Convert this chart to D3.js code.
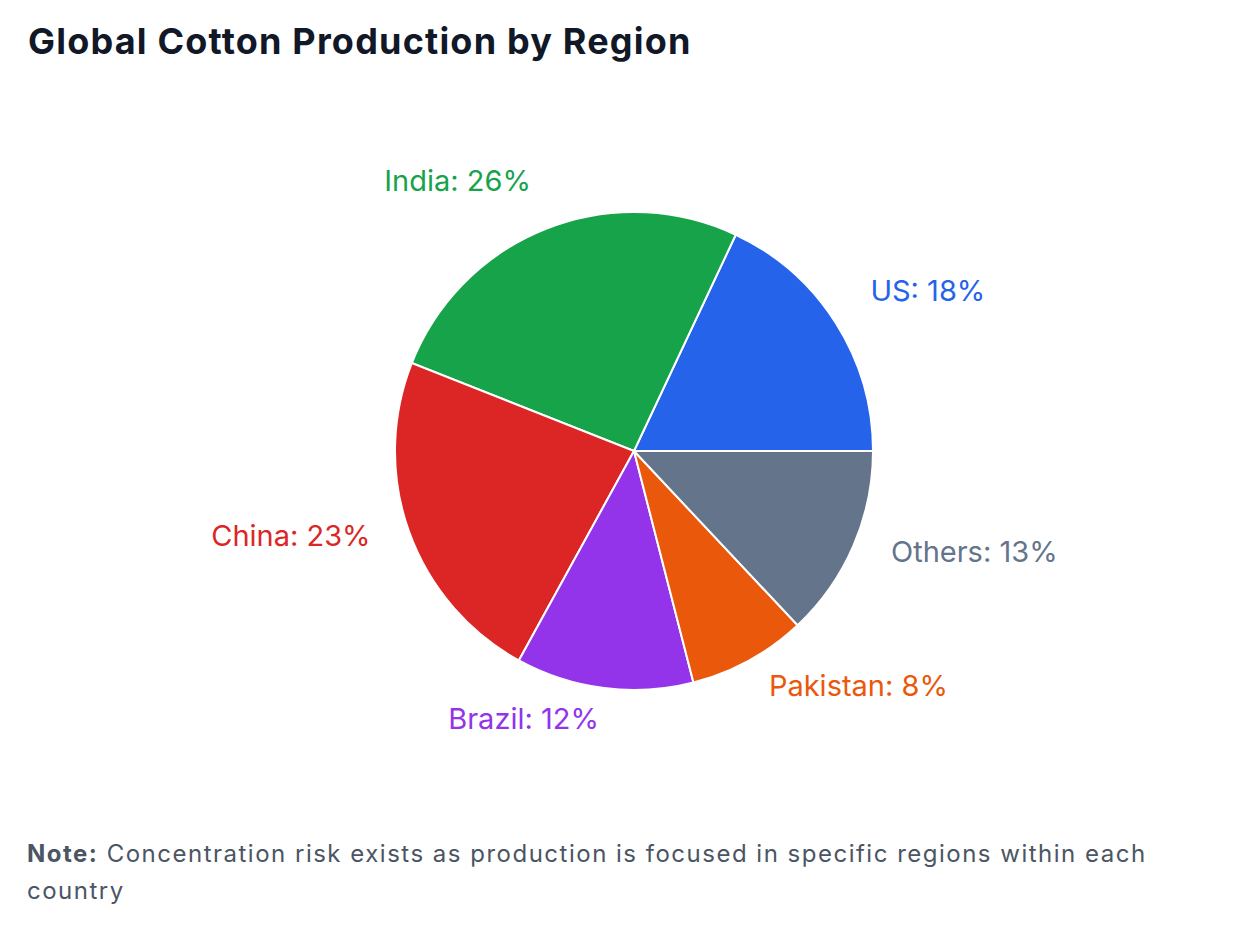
<!DOCTYPE html>
<html>
<head>
<meta charset="utf-8">
<script src="https://cdn.jsdelivr.net/npm/d3@7"></script>
<style>
  body { margin: 0; background: #fff; }
  svg text { font-family: Inter, "Noto Sans", sans-serif; }
</style>
</head>
<body>
<div id="chart"></div>
<script>
// data
const regions = ["US", "India", "China", "Brazil", "Pakistan", "Others"];
const shares  = [18, 26, 23, 12, 8, 13];
const noteLines = [
  "Concentration risk exists as production is focused in specific regions within each",
  "country"
];

// palette, one per region
const colors = d3.scaleOrdinal()
  .domain(regions)
  .range(["#2563eb", "#16a34a", "#dc2626", "#9333ea", "#ea580c", "#64748b"]);

const width = 1248, height = 929;
const cx = 634, cy = 451, radius = 239, labelRadius = 280;

const svg = d3.select("#chart").append("svg")
  .attr("width", width)
  .attr("height", height);

// title
svg.append("text")
  .attr("x", 28)
  .attr("y", 54)
  .attr("fill", "#111827")
  .attr("font-size", "36px")
  .attr("font-weight", 700)
  .attr("letter-spacing", "1.2px")
  .text("Global Cotton Production by Region");

// pie starts at 3 o'clock and runs counter clockwise
const pie = d3.pie()
  .value(d => d.value)
  .sort(null)
  .startAngle(Math.PI / 2)
  .endAngle(Math.PI / 2 - 2 * Math.PI);

const arc = d3.arc().innerRadius(0).outerRadius(radius);

const data = regions.map((r, i) => ({ name: r, value: shares[i] }));
const arcs = pie(data);

const g = svg.append("g")
  .attr("transform", "translate(" + cx + "," + cy + ")");

g.selectAll("path")
  .data(arcs)
  .enter()
  .append("path")
    .attr("d", arc)
    .attr("fill", d => colors(d.data.name))
    .attr("stroke", "#fff")
    .attr("stroke-width", 2);

// labels outside the slices
g.selectAll("text.lbl")
  .data(arcs)
  .enter()
  .append("text")
    .attr("class", "lbl")
    .attr("x", d => labelRadius * Math.sin((d.startAngle + d.endAngle) / 2))
    .attr("y", d => -labelRadius * Math.cos((d.startAngle + d.endAngle) / 2))
    .attr("text-anchor", d => Math.sin((d.startAngle + d.endAngle) / 2) > 0 ? "start" : "end")
    .attr("fill", d => colors(d.data.name))
    .attr("font-size", "29px")
    .text(d => d.data.name + ": " + d.data.value + "%");

// footnote
const note = svg.append("text")
  .attr("x", 27)
  .attr("y", 862)
  .attr("fill", "#4b5563")
  .attr("font-size", "24px")
  .attr("letter-spacing", "1.5px");

note.append("tspan")
  .attr("font-weight", 700)
  .text("Note:");
note.append("tspan")
  .text(" " + noteLines[0]);
note.append("tspan")
  .attr("x", 27)
  .attr("dy", 36.6)
  .text(noteLines[1]);
</script>
</body>
</html>
